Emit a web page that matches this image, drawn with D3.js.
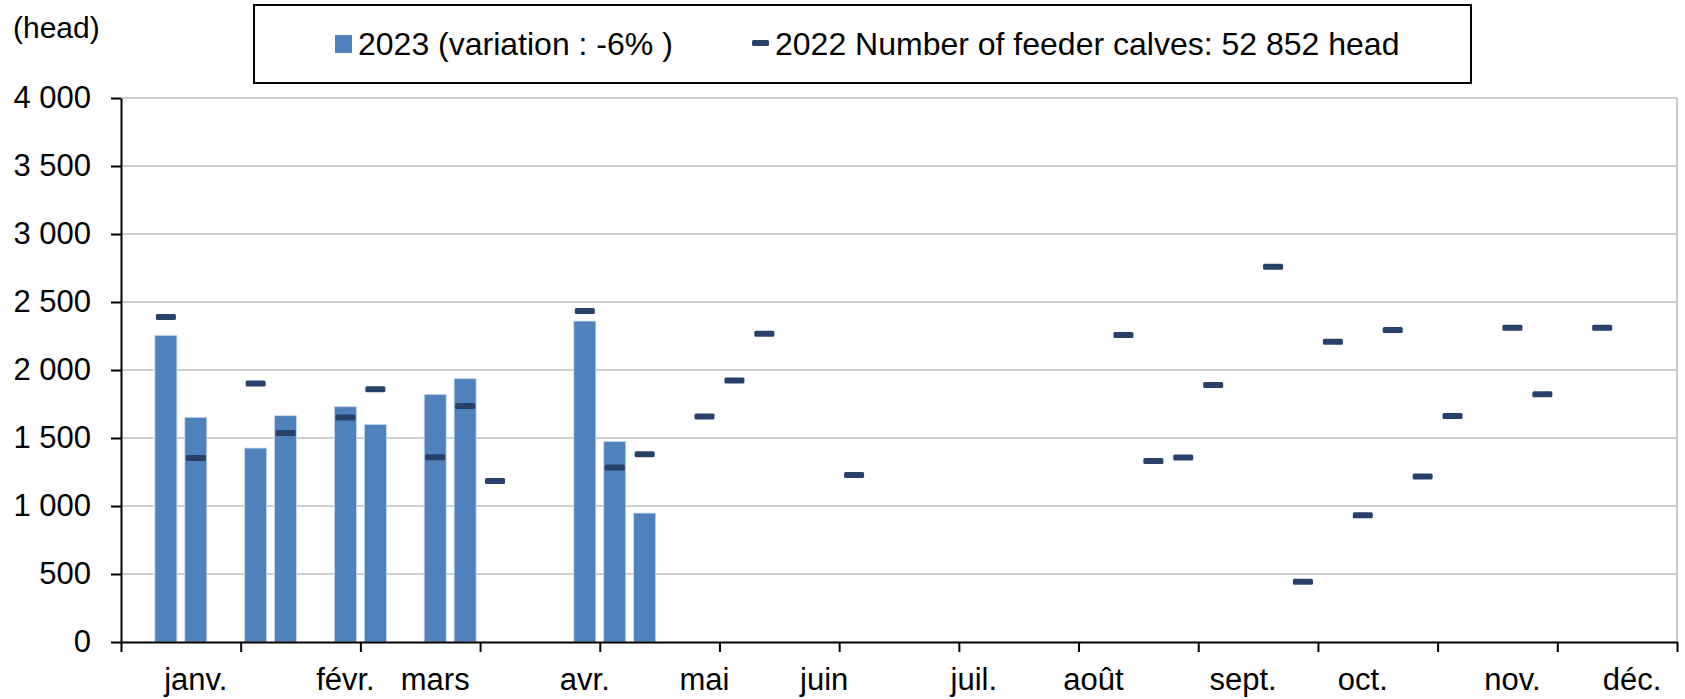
<!DOCTYPE html>
<html>
<head>
<meta charset="utf-8">
<script src="https://cdn.jsdelivr.net/npm/d3@7"></script>
<style>
  html, body { margin: 0; padding: 0; background: #fff; }
  svg text { font-family: "Liberation Sans", Arial, sans-serif; fill: #000; }
</style>
</head>
<body>
<svg id="chart" width="1685" height="699"></svg>
<script>
// ---- Data (52 weekly categories; null = no value) ----
const weeks = d3.range(52);
const weekIdx2023 = [1, 2, 4, 5, 7, 8, 10, 11, 15, 16, 17];
const values2023  = [2255, 1652, 1426, 1664, 1730, 1600, 1821, 1936, 2360, 1475, 948];
const weekIdx2022 = [1, 2, 4, 5, 7, 8, 10, 11, 12, 15, 16, 17, 19, 20, 21, 24,
                     33, 34, 35, 36, 38, 39, 40, 41, 42, 43, 44, 46, 47, 49];
const values2022  = [2390, 1353, 1900, 1537, 1650, 1858, 1358, 1735, 1184, 2434, 1284, 1380, 1659, 1922, 2267, 1228,
                     2258, 1330, 1357, 1890, 2760, 443, 2207, 932, 2295, 1216, 1662, 2310, 1822, 2310];
const monthLabels = ["janv.", "févr.", "mars", "avr.", "mai", "juin", "juil.", "août", "sept.", "oct.", "nov.", "déc."];
const monthWeeks  = [2, 7, 10, 15, 19, 23, 28, 32, 37, 41, 46, 50];
const yTicks = [0, 500, 1000, 1500, 2000, 2500, 3000, 3500, 4000];
const legendLabels = ["2023 (variation : -6% )", "2022 Number of feeder calves: 52 852 head"];
const yUnit = "(head)";

(function () {
// ---- Layout ----
const svg = d3.select("#chart");
const pL = 121, pR = 1677, pT = 98, pB = 642;
const barColor = "#4F81BD", markColor = "#27416A", gridColor = "#BFBFBF";

const x = d3.scaleBand().domain(weeks).range([pL, pR]).paddingInner(0.265).paddingOuter(0.1325);
const xEdge = d3.scaleLinear().domain([0, 52]).range([pL, pR]);
const y = d3.scaleLinear().domain([0, 4000]).range([pB, pT]);

const fmt = d3.formatLocale({ decimal: ",", thousands: " ", grouping: [3], currency: ["", ""] }).format(",");

// gridlines
svg.append("g").selectAll("line").data(yTicks.filter(d => d > 0)).join("line")
  .attr("x1", pL).attr("x2", pR)
  .attr("y1", d => y(d)).attr("y2", d => y(d))
  .attr("stroke", gridColor).attr("stroke-width", 1.6);
// right border of plot
svg.append("line").attr("x1", pR).attr("x2", pR).attr("y1", pT).attr("y2", pB)
  .attr("stroke", gridColor).attr("stroke-width", 1.6);

// bars 2023
const bars = weekIdx2023.map((w, i) => ({ w, v: values2023[i] }));
svg.append("g").selectAll("rect").data(bars).join("rect")
  .attr("x", d => x(d.w)).attr("width", x.bandwidth())
  .attr("y", d => y(d.v)).attr("height", d => y(0) - y(d.v))
  .attr("fill", barColor).attr("stroke", "#C9D9EC").attr("stroke-width", 0.8);

// markers 2022
const marks = weekIdx2022.map((w, i) => ({ w, v: values2022[i] }));
svg.append("g").selectAll("rect").data(marks).join("rect")
  .attr("x", d => x(d.w) + x.bandwidth() / 2 - 10).attr("width", 20)
  .attr("y", d => y(d.v) - 3).attr("height", 6).attr("rx", 1.5)
  .attr("fill", markColor);

// y axis
const yAxis = svg.append("g").attr("transform", `translate(${pL},0)`)
  .call(d3.axisLeft(y).tickValues(yTicks).tickFormat(fmt).tickSize(10).tickPadding(20).tickSizeOuter(0));
yAxis.select(".domain").attr("stroke", "#000").attr("stroke-width", 2);
yAxis.selectAll(".tick line").attr("stroke", "#000").attr("stroke-width", 2);
yAxis.selectAll("text").style("font-size", "31px").attr("fill", "#000");

// x axis: boundary ticks
const xTickAxis = svg.append("g").attr("transform", `translate(0,${pB})`)
  .call(d3.axisBottom(xEdge).tickValues(d3.range(0, 53, 4)).tickFormat("").tickSize(10).tickSizeOuter(0));
xTickAxis.select(".domain").attr("stroke", "#000").attr("stroke-width", 2);
xTickAxis.selectAll(".tick line").attr("stroke", "#000").attr("stroke-width", 2);

// x axis: month labels centred on their week
const labelMap = new Map(monthWeeks.map((w, i) => [w, monthLabels[i]]));
const xLab = svg.append("g").attr("transform", `translate(0,${pB})`)
  .call(d3.axisBottom(x).tickValues(monthWeeks).tickFormat(w => labelMap.get(w)).tickSize(0));
xLab.select(".domain").remove();
xLab.selectAll("text").attr("y", 48).attr("dy", 0).style("font-size", "31px").attr("fill", "#000");

// unit label
svg.append("text").attr("x", 13).attr("y", 38).style("font-size", "30px").text(yUnit);

// legend
const lg = svg.append("g");
lg.append("rect").attr("x", 254).attr("y", 5).attr("width", 1217).attr("height", 78)
  .attr("fill", "#fff").attr("stroke", "#000").attr("stroke-width", 2);
lg.append("rect").attr("x", 335).attr("y", 35).attr("width", 17).attr("height", 18).attr("fill", barColor);
lg.append("text").attr("x", 358).attr("y", 55).style("font-size", "32px").text(legendLabels[0]);
lg.append("rect").attr("x", 752).attr("y", 40).attr("width", 17).attr("height", 6).attr("rx", 1.5).attr("fill", markColor);
lg.append("text").attr("x", 775).attr("y", 55).style("font-size", "32px").text(legendLabels[1]);
})();
</script>
</body>
</html>
